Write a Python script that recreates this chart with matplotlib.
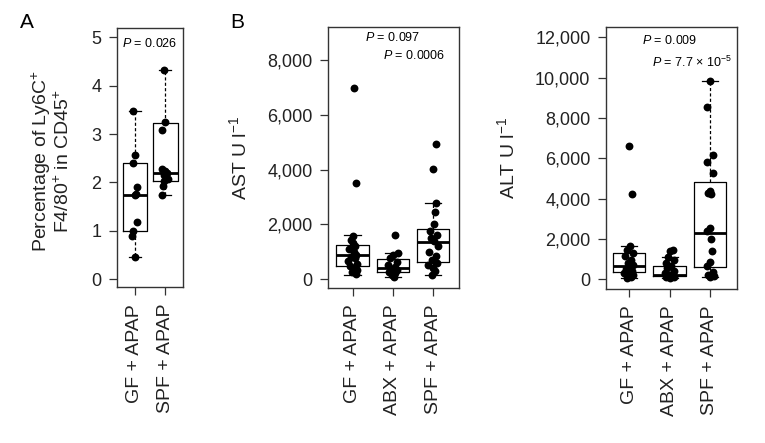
import matplotlib
matplotlib.use("Agg")
import matplotlib.pyplot as plt
import numpy as np

plt.rcParams['font.family'] = ['Liberation Sans', 'DejaVu Sans']
plt.rcParams['mathtext.fontset'] = 'custom'
plt.rcParams['mathtext.rm'] = 'Liberation Sans'
plt.rcParams['mathtext.it'] = 'Liberation Sans:italic'
plt.rcParams['mathtext.bf'] = 'Liberation Sans:bold'

# ---------------- data ----------------
A_groups = ["GF + APAP", "SPF + APAP"]
A_GF = [3.47, 2.56, 2.40, 1.90, 1.77, 1.74, 1.19, 0.99, 0.90, 0.45]
A_GF_jit = [-0.08, 0.0, -0.08, 0.08, 0.04, 0.0, 0.08, -0.08, -0.1, 0.0]
A_SPF = [4.32, 3.26, 3.09, 2.28, 2.24, 2.19, 2.15, 2.08, 2.02, 1.93, 1.73]
A_SPF_jit = [-0.05, -0.02, -0.1, -0.1, 0.0, 0.05, -0.05, 0.08, -0.04, -0.08, -0.1]
# box stats: whislo, q1, med, q3, whishi
A_GF_box = [0.45, 0.99, 1.745, 2.40, 3.47]
A_SPF_box = [1.73, 2.02, 2.19, 3.24, 4.32]
A_yticks = [0, 1, 2, 3, 4, 5]

B_groups = ["GF + APAP", "ABX + APAP", "SPF + APAP"]
AST_GF = [6970, 3526, 1590, 1450, 1320, 1200, 1100, 1010, 900, 830, 760, 650, 560, 480, 400, 330, 250, 190]
AST_GF_jit = [0.03, 0.09, 0.02, -0.05, 0.0, 0.06, -0.08, 0.03, 0.08, -0.03, 0.05, -0.12, 0.1, -0.06, 0.04, 0.12, -0.02, 0.08]
AST_ABX = [1617, 960, 890, 770, 640, 520, 450, 380, 330, 280, 220, 160, 100]
AST_ABX_jit = [0.05, 0.12, 0.0, -0.08, 0.1, -0.12, 0.04, -0.05, 0.1, -0.1, 0.05, -0.02, 0.03]
AST_SPF = [4938, 4015, 2796, 2450, 2000, 1750, 1600, 1500, 1380, 1200, 1000, 850, 700, 600, 520, 430, 300, 160]
AST_SPF_jit = [0.06, 0.0, 0.07, 0.05, 0.03, -0.08, 0.1, -0.05, 0.02, 0.12, -0.1, 0.06, -0.04, 0.1, -0.12, 0.0, 0.05, -0.02]
AST_GF_box = [157, 497, 876, 1240, 1606]
AST_ABX_box = [95, 255, 424, 753, 971]
AST_SPF_box = [157, 620, 1372, 1836, 2796]
AST_yticks = [0, 2000, 4000, 6000, 8000]

ALT_GF = [6610, 4215, 1650, 1450, 1300, 1150, 950, 800, 700, 620, 500, 400, 300, 220, 150, 100, 60]
ALT_GF_jit = [-0.02, 0.06, 0.02, -0.06, 0.08, -0.1, 0.04, -0.03, 0.1, 0.0, -0.08, 0.06, -0.12, 0.1, -0.04, 0.05, -0.06]
ALT_ABX = [1450, 1380, 1090, 950, 800, 680, 550, 400, 300, 220, 180, 150, 120, 90, 60]
ALT_ABX_jit = [0.08, 0.0, -0.05, 0.1, -0.1, 0.04, -0.06, 0.1, -0.12, 0.02, 0.08, -0.04, 0.12, -0.08, 0.0]
ALT_SPF = [9850, 8530, 6160, 5800, 5260, 4400, 4300, 4250, 2530, 2400, 1980, 1420, 870, 650, 350, 200, 150, 130]
ALT_SPF_jit = [0.0, -0.07, 0.07, -0.07, 0.08, 0.0, -0.04, 0.03, 0.0, -0.06, 0.02, 0.06, 0.0, -0.08, 0.08, -0.05, 0.1, 0.0]
ALT_GF_box = [60, 347, 660, 1320, 1650]
ALT_ABX_box = [50, 150, 230, 676, 1090]
ALT_SPF_box = [130, 595, 2280, 4840, 9850]
ALT_yticks = [0, 2000, 4000, 6000, 8000, 10000, 12000]

# ---------------- figure ----------------
W, H = 765, 443
fig = plt.figure(figsize=(W / 100, H / 100), dpi=100)


def px_axes(l, t, r, b):
    return fig.add_axes([l / W, 1 - b / H, (r - l) / W, (b - t) / H])


def draw_panel(ax, groups, values, jits, boxes, yticks, ylim, xlim):
    stats = []
    for g, b in zip(groups, boxes):
        stats.append(dict(whislo=b[0], q1=b[1], med=b[2], q3=b[3], whishi=b[4], fliers=[], label=g))
    pos = list(range(1, len(groups) + 1))
    ax.bxp(stats, positions=pos, widths=0.8, capwidths=0.4, showfliers=False,
           boxprops=dict(color='black', lw=0.9),
           medianprops=dict(color='black', lw=2.0),
           whiskerprops=dict(color='black', lw=0.9, linestyle=(0, (2.5, 1.8))),
           capprops=dict(color='black', lw=0.9), zorder=2)
    for p, v, j in zip(pos, values, jits):
        ax.scatter(np.array(j) + p, v, s=32, color='black', zorder=3, linewidths=0)
    ax.set_xlim(*xlim)
    ax.set_ylim(*ylim)
    ax.set_yticks(yticks)
    ax.set_yticklabels([f"{t:,}" for t in yticks], fontsize=13, color='#222222')
    ax.set_xticks(pos)
    ax.set_xticklabels(groups, rotation=90, fontsize=14, color='#222222', va='top')
    ax.tick_params(axis='y', length=6, width=0.9, pad=5, color='#333333')
    ax.tick_params(axis='x', length=6, width=0.9, pad=6, color='#333333')
    for s in ax.spines.values():
        s.set_linewidth(1.0)
        s.set_color('#333333')


axA = px_axes(116.7, 28.3, 182.7, 287.3)
draw_panel(axA, A_groups, [A_GF, A_SPF], [A_GF_jit, A_SPF_jit], [A_GF_box, A_SPF_box],
           A_yticks, (-0.17, 5.19), (0.40, 2.57))
axA.text(0.505, 0.94, r"$P$ = 0.026", transform=axA.transAxes, ha='center', va='center', fontsize=9)

axB = px_axes(327.7, 27.3, 458.7, 288.0)
draw_panel(axB, B_groups, [AST_GF, AST_ABX, AST_SPF], [AST_GF_jit, AST_ABX_jit, AST_SPF_jit],
           [AST_GF_box, AST_ABX_box, AST_SPF_box], AST_yticks, (-317, 9193), (0.385, 3.63))
axB.text(0.498, 0.959, r"$P$ = 0.097", transform=axB.transAxes, ha='center', va='center', fontsize=9)
axB.text(0.659, 0.89, r"$P$ = 0.0006", transform=axB.transAxes, ha='center', va='center', fontsize=9)

axC = px_axes(605.7, 27.3, 737.3, 288.7)
draw_panel(axC, B_groups, [ALT_GF, ALT_ABX, ALT_SPF], [ALT_GF_jit, ALT_ABX_jit, ALT_SPF_jit],
           [ALT_GF_box, ALT_ABX_box, ALT_SPF_box], ALT_yticks, (-466, 12496), (0.414, 3.68))
axC.text(0.489, 0.948, r"$P$ = 0.009", transform=axC.transAxes, ha='center', va='center', fontsize=9)
axC.text(0.656, 0.867, r"$P$ = 7.7 × 10$^{-5}$", transform=axC.transAxes, ha='center', va='center', fontsize=9)

# y labels
fig.text(51 / W, 1 - 161 / H, "Percentage of Ly6C$^{+}$\nF4/80$^{+}$ in CD45$^{+}$",
         rotation=90, ha='center', va='center', multialignment='center', fontsize=14, color='#222222',
         linespacing=1.0)
fig.text(239.5 / W, 1 - 158 / H, "AST U l$^{-1}$", rotation=90, ha='center', va='center',
         fontsize=14, color='#222222')
fig.text(507.5 / W, 1 - 158 / H, "ALT U l$^{-1}$", rotation=90, ha='center', va='center',
         fontsize=14, color='#222222')

# panel letters
fig.text(27 / W, 1 - 23 / H, "A", ha='center', va='center', fontsize=15, color='black')
fig.text(237 / W, 1 - 23 / H, "B", ha='center', va='center', fontsize=15, color='black')

fig.savefig("out.png", dpi=100)
